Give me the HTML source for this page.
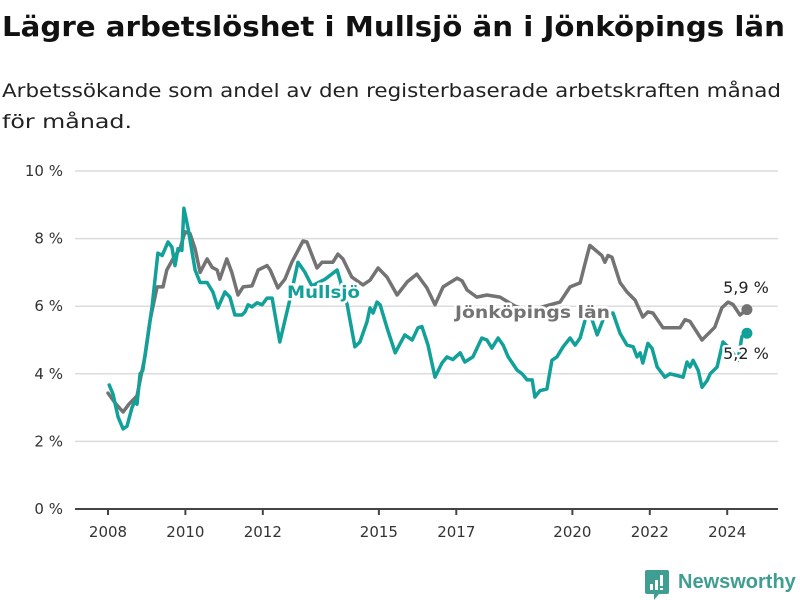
<!DOCTYPE html>
<html><head><meta charset="utf-8">
<style>
body{margin:0;width:800px;height:600px;background:#fff;overflow:hidden;font-family:"DejaVu Sans","Liberation Sans",sans-serif}
svg{position:absolute;left:0;top:0}
</style></head><body>
<svg id="chart" width="800" height="600">
<text x="2" y="36" font-size="28" font-weight="bold" fill="#111" textLength="783" lengthAdjust="spacingAndGlyphs">Lägre arbetslöshet i Mullsjö än i Jönköpings län</text>
<g>
<text x="2" y="97" font-size="19" fill="#222" textLength="779" lengthAdjust="spacingAndGlyphs">Arbetssökande som andel av den registerbaserade arbetskraften månad</text>
<text x="2" y="128" font-size="19" fill="#222" textLength="130" lengthAdjust="spacingAndGlyphs">för månad.</text>
</g>
</svg>
<script>
const yTicks=[0,2,4,6,8,10];
const xTickYears=[2008,2010,2012,2015,2017,2020,2022,2024];
const lanYears=[0,0.21,0.39,0.54,0.75,0.96,1.09,1.27,1.42,1.52,1.68,1.86,1.99,2.12,2.25,2.38,2.56,2.69,2.82,2.89,3.07,3.2,3.36,3.49,3.72,3.88,4.11,4.19,4.39,4.57,4.75,5.04,5.14,5.4,5.53,5.81,5.94,6.07,6.3,6.59,6.77,6.98,7.21,7.47,7.73,7.98,8.24,8.45,8.66,9.02,9.15,9.28,9.53,9.79,10.13,10.52,10.9,11.29,11.68,11.94,12.2,12.33,12.45,12.76,12.84,12.92,13.02,13.23,13.41,13.62,13.82,13.95,14.08,14.34,14.78,14.91,15.04,15.35,15.68,15.86,16.02,16.15,16.33,16.51];
const lanValues=[3.43,3.1,2.87,3.1,3.35,4.55,5.6,6.57,6.57,7.07,7.4,7.7,8.2,8.15,7.7,7.0,7.4,7.15,7.07,6.8,7.4,7.0,6.33,6.57,6.6,7.07,7.2,7.07,6.54,6.8,7.3,7.93,7.9,7.13,7.3,7.3,7.54,7.4,6.86,6.63,6.77,7.13,6.86,6.33,6.72,6.95,6.54,6.04,6.57,6.83,6.75,6.48,6.27,6.33,6.27,6.0,5.85,6.0,6.12,6.57,6.69,7.28,7.8,7.5,7.3,7.5,7.45,6.7,6.42,6.18,5.68,5.83,5.8,5.36,5.36,5.6,5.55,5.0,5.38,5.95,6.12,6.05,5.74,5.9];
const mulYears=[0.03,0.13,0.26,0.39,0.49,0.62,0.7,0.75,0.83,0.9,1.14,1.29,1.4,1.55,1.65,1.73,1.81,1.91,1.96,2.07,2.25,2.38,2.56,2.71,2.84,3.02,3.15,3.28,3.46,3.54,3.62,3.72,3.85,3.98,4.11,4.24,4.44,4.7,4.91,5.09,5.27,5.61,5.92,6.18,6.38,6.51,6.69,6.77,6.85,6.95,7.03,7.21,7.42,7.67,7.86,8.01,8.11,8.27,8.45,8.63,8.76,8.91,9.1,9.22,9.43,9.66,9.79,9.92,10.08,10.21,10.34,10.57,10.7,10.83,10.96,11.03,11.16,11.34,11.47,11.6,11.76,11.94,12.07,12.2,12.33,12.45,12.64,12.76,12.84,13.05,13.23,13.41,13.57,13.67,13.75,13.82,13.95,14.06,14.19,14.39,14.52,14.7,14.86,14.96,15.04,15.12,15.25,15.35,15.48,15.56,15.74,15.89,16.02,16.28,16.38,16.51];
const mulValues=[3.67,3.4,2.72,2.37,2.45,3.0,3.2,3.1,4.0,4.1,6.0,7.57,7.5,7.9,7.75,7.2,7.7,7.65,8.9,8.3,7.07,6.7,6.7,6.42,5.95,6.42,6.27,5.74,5.74,5.83,6.04,5.98,6.1,6.04,6.24,6.24,4.94,6.2,7.3,7.0,6.6,6.8,7.07,6.04,4.8,4.94,5.53,5.95,5.8,6.12,6.04,5.36,4.62,5.15,5.0,5.36,5.4,4.85,3.9,4.32,4.5,4.42,4.62,4.35,4.5,5.06,5.0,4.76,5.06,4.85,4.5,4.11,4.0,3.82,3.82,3.31,3.5,3.55,4.4,4.5,4.8,5.06,4.85,5.06,5.6,5.8,5.15,5.5,5.75,5.8,5.2,4.85,4.8,4.5,4.62,4.32,4.9,4.75,4.2,3.9,4.0,3.95,3.9,4.35,4.2,4.4,4.1,3.6,3.8,4.0,4.2,4.94,4.8,4.4,5.1,5.2];
const lastLabels=["5,9 %","5,2 %"];

const svg=document.getElementById('chart');
const NS='http://www.w3.org/2000/svg';
const x=t=>108+(t-2008)*38.7;
const y=v=>509-v*33.8;
function mk(tag,attrs){const e=document.createElementNS(NS,tag);for(const k in attrs)e.setAttribute(k,attrs[k]);svg.appendChild(e);return e;}
yTicks.forEach(v=>{
  const g=mk('line',{x1:75,x2:778,y1:y(v),y2:y(v),stroke:v===0?'#444':'#dcdcdc','stroke-width':v===0?2:1.5});
  
  
  const t=mk('text',{x:63,y:y(v)+5,'text-anchor':'end','font-size':15,fill:'#333'});
  t.textContent=v+' %';
  
  
});
xTickYears.forEach(yr=>{
  const l=mk('line',{x1:x(yr),x2:x(yr),y1:509,y2:515,stroke:'#444','stroke-width':2});
  
  
  const t=mk('text',{x:x(yr),y:537,'text-anchor':'middle','font-size':15,fill:'#333'});
  t.textContent=yr;
  
  
});
function series(yrs,vals,color,name){
  const d=yrs.map((t,i)=>(i?'L':'M')+x(2008+t).toFixed(1)+','+y(vals[i]).toFixed(1)).join('');
  const p=mk('path',{d:d,fill:'none',stroke:color,'stroke-width':3.5,'stroke-linejoin':'round','stroke-linecap':'round'});
  
  
  const n=yrs.length-1;
  const c=mk('circle',{cx:x(2008+yrs[n]),cy:y(vals[n]),r:5.5,fill:color});
  
  
}
series(lanYears,lanValues,'#737373','jonkopings-lan');
series(mulYears,mulValues,'#12a199','mullsjo');
function label(txt,xx,yy,col,w,name,anchor,len){
  const a={x:xx,y:yy,'font-size':w?17:16,'font-weight':w?'bold':'normal',fill:col,stroke:'#fff','stroke-width':5,'paint-order':'stroke','stroke-linejoin':'round','text-anchor':anchor||'start'};
  if(len){a.textLength=len;a.lengthAdjust='spacingAndGlyphs';}
  const t=mk('text',a);
  t.textContent=txt;
  
  
}
label('Mullsjö',287,298,'#12a199',true,'mullsjo-label','start',73);
label('Jönköpings län',455,318,'#737373',true,'jonkopings-lan-label','start',155);
label(lastLabels[0],746,293,'#222',false,'jonkopings-last-value','middle');
label(lastLabels[1],746,359,'#222',false,'mullsjo-last-value','middle');
</script>
<div style="position:absolute;left:645px;top:570px;height:30px;display:flex;align-items:center">
<svg width="24" height="30" viewBox="0 0 24 30" style="position:static"><path d="M2 0h20a2 2 0 0 1 2 2v20a2 2 0 0 1-2 2H14l-5 6v-6H2a2 2 0 0 1-2-2V2a2 2 0 0 1 2-2z" fill="#3f9d91"/><rect x="5" y="14" width="3" height="6" fill="#fff"/><rect x="10" y="10" width="3" height="10" fill="#fff"/><rect x="15" y="5" width="3" height="11" fill="#fff"/><rect x="15" y="18" width="3" height="2" fill="#fff"/></svg>
<span style="margin-left:9px;font-size:20px;font-weight:bold;color:#3f9d91;margin-top:-6px;font-family:'Liberation Sans',sans-serif">Newsworthy</span>
</div>
</body></html>
